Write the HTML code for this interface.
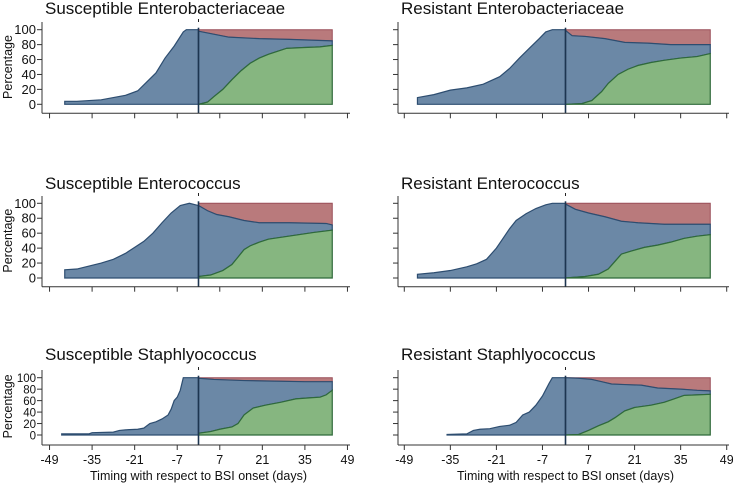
<!DOCTYPE html>
<html><head><meta charset="utf-8"><style>
html,body{margin:0;padding:0;background:#fff;}
svg{display:block;font-family:"Liberation Sans",Arial,sans-serif;}
</style></head><body>
<svg id="c" width="733" height="486" viewBox="0 0 733 486" xmlns="http://www.w3.org/2000/svg"></svg>
<script>
const titles = ["Susceptible Enterobacteriaceae","Resistant Enterobacteriaceae","Susceptible Enterococcus","Resistant Enterococcus","Susceptible Staphlyococcus","Resistant Staphlyococcus"];
const xTicks = [-49,-35,-21,-7,7,21,35,49];
const yTicks = [0,20,40,60,80,100];
// pre-onset series (days, percentage)
const preDays1 = [-44,-40,-36,-32,-28,-24,-20,-17,-14,-11,-8,-5,-4,0];
const preVals1 = [4,4,5,6,9,12,18,30,42,62,78,97,100,100];
const preDays2 = [-45,-40,-35,-30,-25,-20,-17,-14,-11,-8,-6,-4,0];
const preVals2 = [9,13,19,22,27,37,48,62,75,88,97,100,100];
const preDays3 = [-44,-40,-36,-32,-28,-24,-21,-18,-15,-12,-9,-6,-3,0];
const preVals3 = [11,12,16,20,25,33,41,49,60,74,87,97,100,97];
const preDays4 = [-45,-40,-35,-30,-27,-24,-21,-19,-17,-15,-12,-9,-6,-4,0];
const preVals4 = [5,7,10,15,19,25,40,53,66,77,86,93,98,100,100];
const preDays5 = [-45,-36,-35,-28,-26,-24,-20,-18,-16,-14,-12,-10,-9,-8,-7,-6,-5,0];
const preVals5 = [2,2,4,5,8,9,10,12,20,23,28,35,45,60,66,78,100,100];
const preDays6 = [-36,-30,-28,-26,-23,-20,-17,-15,-13,-11,-9,-7,-5,-4,0];
const preVals6 = [1,2,8,10,11,15,17,22,35,40,52,68,90,100,100];
// post-onset: cured (green) series
const greenDays1 = [0,3,5,8,11,14,17,20,23,26,29,34,40,44];
const greenVals1 = [0,3,10,20,33,45,55,62,67,71,75,76,77,79];
const greenDays2 = [0,5,8,11,13,16,19,22,26,30,35,40,44];
const greenVals2 = [0,1,5,17,28,40,47,52,56,59,62,64,68];
const greenDays3 = [0,4,8,11,13,15,17,20,23,28,33,38,44];
const greenVals3 = [2,4,10,18,28,38,43,48,52,55,58,61,64];
const greenDays4 = [0,6,10,13,15,17,20,24,28,32,36,40,44];
const greenVals4 = [0,2,5,12,22,32,36,41,44,48,53,56,58];
const greenDays5 = [0,4,7,11,13,15,18,22,27,32,37,40,42,44];
const greenVals5 = [3,6,10,14,20,35,47,52,57,63,65,66,70,78];
const greenDays6 = [0,4,7,10,13,15,18,21,26,30,33,36,40,44];
const greenVals6 = [0,1,8,16,23,30,42,48,52,57,63,69,70,71];
// post-onset: colonised (blue) upper boundary
const blueDays1 = [0,5,10,20,30,44];
const blueVals1 = [98,94,90,88,87,85];
const blueDays2 = [0,2,6,12,18,25,32,44];
const blueVals2 = [99,92,91,88,83,82,80,80];
const blueDays3 = [0,3,6,10,15,20,30,42,44];
const blueVals3 = [97,90,85,82,77,74,74,73,71];
const blueDays4 = [0,3,7,12,17,22,30,44];
const blueVals4 = [99,92,87,82,76,74,72,72];
const blueDays5 = [0,5,15,25,35,44];
const blueVals5 = [99,97,95,94,93,93];
const blueDays6 = [0,4,8,11,14,18,23,28,35,40,44];
const blueVals6 = [100,99,97,93,89,88,87,82,80,78,77];

const PRE=[[preDays1,preVals1],[preDays2,preVals2],[preDays3,preVals3],[preDays4,preVals4],[preDays5,preVals5],[preDays6,preVals6]];
const GRN=[[greenDays1,greenVals1],[greenDays2,greenVals2],[greenDays3,greenVals3],[greenDays4,greenVals4],[greenDays5,greenVals5],[greenDays6,greenVals6]];
const BLU=[[blueDays1,blueVals1],[blueDays2,blueVals2],[blueDays3,blueVals3],[blueDays4,blueVals4],[blueDays5,blueVals5],[blueDays6,blueVals6]];

const NS="http://www.w3.org/2000/svg";
const svg=document.getElementById('c');
function mk(tag,attrs,parent){const e=document.createElementNS(NS,tag);for(const k in attrs)e.setAttribute(k,attrs[k]);(parent||svg).appendChild(e);return e;}

const cols=[{ax:42,x0:198.5,k:3.04,xEnd:350},{ax:398,x0:565.5,k:3.29,xEnd:729}];
const rows=[{y100:29.7,y0:104.3,axis:113.3,top:22,title:14},{y100:203.3,y0:278,axis:286.7,top:196,title:189},{y100:377.7,y0:435,axis:445,top:370,title:360}];

for(let p=0;p<6;p++){
  const c=cols[p%2], r=rows[Math.floor(p/2)];
  const X=t=>c.x0+c.k*t;
  const Y=v=>r.y0-(r.y0-r.y100)*v/100;
  const g=mk('g',{});
  
  
  const tt=mk('text',{x:c.ax+3,y:r.title,'font-size':17,fill:'#111'},g);
  
  
  tt.textContent=titles[p];
  const [pd,pv]=PRE[p], [gd,gv]=GRN[p], [bd,bv]=BLU[p];
  const tEnd=gd[gd.length-1];
  // pre area
  let pts=[[X(pd[0]),Y(0)]];
  pd.forEach((d,i)=>pts.push([X(d),Y(pv[i])]));
  pts.push([X(0),Y(0)]);
  const pre=mk('polygon',{points:pts.map(q=>q.join(',')).join(' '),fill:'#6b88a6',stroke:'#2d4d70','stroke-width':1.2},g);
  
  
  // red
  let rp=[[X(0),Y(100)],[X(tEnd),Y(100)]];
  for(let i=bd.length-1;i>=0;i--)rp.push([X(bd[i]),Y(bv[i])]);
  const red=mk('polygon',{points:rp.map(q=>q.join(',')).join(' '),fill:'#b97a7c',stroke:'#9a4e58','stroke-width':1},g);
  
  
  // blue post
  let bp=[];
  bd.forEach((d,i)=>bp.push([X(d),Y(bv[i])]));
  for(let i=gd.length-1;i>=0;i--)bp.push([X(gd[i]),Y(gv[i])]);
  const bl=mk('polygon',{points:bp.map(q=>q.join(',')).join(' '),fill:'#6b88a6',stroke:'#2d4d70','stroke-width':1.2},g);
  
  
  // green
  let gp=[[X(0),Y(0)]];
  gd.forEach((d,i)=>gp.push([X(d),Y(gv[i])]));
  gp.push([X(tEnd),Y(0)]);
  const gr=mk('polygon',{points:gp.map(q=>q.join(',')).join(' '),fill:'#86b680',stroke:'#2f6a3a','stroke-width':1.2},g);
  
  
  // vertical onset line
  const vl=mk('line',{x1:X(0),x2:X(0),y1:r.y100-2,y2:r.axis,stroke:'#1d3550','stroke-width':1.6},g);
  
  
  mk('line',{x1:X(0),x2:X(0),y1:r.top-3,y2:r.top,stroke:'#222','stroke-width':1},g);
  // axes
  const ya=mk('line',{x1:c.ax,x2:c.ax,y1:r.top,y2:r.axis,stroke:'#333','stroke-width':1},g);
  
  
  const xa=mk('line',{x1:c.ax,x2:c.xEnd,y1:r.axis,y2:r.axis,stroke:'#333','stroke-width':1},g);
  
  
  yTicks.forEach(v=>{
    mk('line',{x1:c.ax-5,x2:c.ax,y1:Y(v),y2:Y(v),stroke:'#333','stroke-width':1},g);
    if(p%2===0){
      const l=mk('text',{x:c.ax-6,y:Y(v)+4.5,'font-size':r.y0-r.y100<65?11.5:13,'text-anchor':'end',fill:'#111'},g);
      
      
      l.textContent=v;
    }
  });
  xTicks.forEach(t=>{
    mk('line',{x1:X(t),x2:X(t),y1:r.axis,y2:r.axis+5,stroke:'#333','stroke-width':1},g);
    if(p>=4){
      const l=mk('text',{x:X(t),y:r.axis+19,'font-size':12.5,'text-anchor':'middle',fill:'#111'},g);
      
      
      l.textContent=t;
    }
  });
  if(p%2===0){
    const yl=mk('text',{x:0,y:0,'font-size':12.5,'text-anchor':'middle',fill:'#111',transform:`translate(12,${(r.y0+r.y100)/2}) rotate(-90)`},g);
    
    
    yl.textContent='Percentage';
  }
  if(p>=4){
    const xl=mk('text',{x:X(0),y:480,'font-size':12.5,'text-anchor':'middle',fill:'#111'},g);
    
    
    xl.textContent='Timing with respect to BSI onset (days)';
  }
}
</script>
</body></html>
